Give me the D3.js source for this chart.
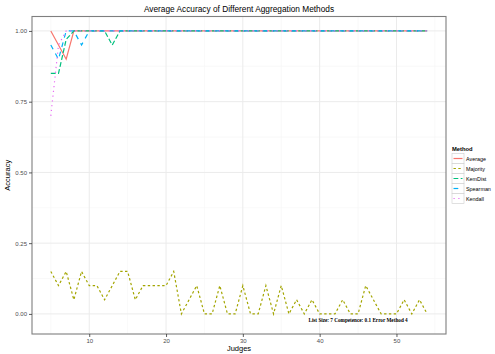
<!DOCTYPE html>
<html>
<head>
<meta charset="utf-8">
<script src="https://cdn.jsdelivr.net/npm/d3@7"></script>
<style>
  html, body { margin: 0; padding: 0; background: #fff; }
  svg { display: block; font-family: "Liberation Sans", Arial, sans-serif; }
</style>
</head>
<body>
<svg id="chart" width="495" height="354"></svg>
<script>
// Number of judges on the x axis
const judges = d3.range(5, 55);

// Method names, in legend order
const methods = ["Average", "Majority", "KemDist", "Spearman", "Kendall"];

// Average accuracy per number of judges (5..54), one array per method
const averageAcc = [1.00, 0.95, 0.90, 1.00, 1.00, 1.00, 1.00, 1.00, 1.00, 1.00,
  1.00, 1.00, 1.00, 1.00, 1.00, 1.00, 1.00, 1.00, 1.00, 1.00, 1.00, 1.00, 1.00, 1.00, 1.00,
  1.00, 1.00, 1.00, 1.00, 1.00, 1.00, 1.00, 1.00, 1.00, 1.00, 1.00, 1.00, 1.00, 1.00, 1.00,
  1.00, 1.00, 1.00, 1.00, 1.00, 1.00, 1.00, 1.00, 1.00, 1.00];
const majorityAcc = [0.15, 0.10, 0.15, 0.05, 0.15, 0.10, 0.10, 0.05, 0.10, 0.15,
  0.15, 0.05, 0.10, 0.10, 0.10, 0.10, 0.15, 0.00, 0.05, 0.10, 0.00, 0.00, 0.10, 0.00, 0.00,
  0.10, 0.00, 0.00, 0.10, 0.00, 0.10, 0.00, 0.05, 0.00, 0.05, 0.00, 0.00, 0.00, 0.05, 0.00,
  0.00, 0.10, 0.05, 0.00, 0.00, 0.00, 0.05, 0.00, 0.05, 0.00];
const kemDistAcc = [0.85, 0.85, 0.97, 1.00, 1.00, 1.00, 1.00, 1.00, 0.95, 1.00,
  1.00, 1.00, 1.00, 1.00, 1.00, 1.00, 1.00, 1.00, 1.00, 1.00, 1.00, 1.00, 1.00, 1.00, 1.00,
  1.00, 1.00, 1.00, 1.00, 1.00, 1.00, 1.00, 1.00, 1.00, 1.00, 1.00, 1.00, 1.00, 1.00, 1.00,
  1.00, 1.00, 1.00, 1.00, 1.00, 1.00, 1.00, 1.00, 1.00, 1.00];
const spearmanAcc = [0.95, 0.90, 1.00, 1.00, 0.95, 1.00, 1.00, 1.00, 1.00, 1.00,
  1.00, 1.00, 1.00, 1.00, 1.00, 1.00, 1.00, 1.00, 1.00, 1.00, 1.00, 1.00, 1.00, 1.00, 1.00,
  1.00, 1.00, 1.00, 1.00, 1.00, 1.00, 1.00, 1.00, 1.00, 1.00, 1.00, 1.00, 1.00, 1.00, 1.00,
  1.00, 1.00, 1.00, 1.00, 1.00, 1.00, 1.00, 1.00, 1.00, 1.00];
const kendallAcc = [0.70, 0.95, 1.00, 1.00, 1.00, 1.00, 1.00, 1.00, 1.00, 1.00,
  1.00, 1.00, 1.00, 1.00, 1.00, 1.00, 1.00, 1.00, 1.00, 1.00, 1.00, 1.00, 1.00, 1.00, 1.00,
  1.00, 1.00, 1.00, 1.00, 1.00, 1.00, 1.00, 1.00, 1.00, 1.00, 1.00, 1.00, 1.00, 1.00, 1.00,
  1.00, 1.00, 1.00, 1.00, 1.00, 1.00, 1.00, 1.00, 1.00, 1.00];

const xTicks = [10, 20, 30, 40, 50];
const yTicks = [0, 0.25, 0.5, 0.75, 1];
const yTickLabels = ["0.00", "0.25", "0.50", "0.75", "1.00"];

const note = { x: 45, y: -0.02, text: "List Size: 7 Competence: 0.1 Error Method 4" };

const seriesValues = [averageAcc, majorityAcc, kemDistAcc, spearmanAcc, kendallAcc];
const colors = ["#F8766D", "#A3A500", "#00BF7D", "#00B0F6", "#E76BF3"];
const dashes = [null, "2.4,2.4", "4.8,2.4", "4.8,4.8", "1.2,3.6"];

const series = methods.map((m, i) => ({
  name: m,
  color: colors[i],
  dash: dashes[i],
  points: judges.map((j, k) => ({ x: j, y: seriesValues[i][k] }))
}));

const svg = d3.select("#chart");
const panel = { left: 32, right: 446, top: 16.5, bottom: 334 };

// ggplot-style 5% expansion on each side
function expand(lo, hi) { const d = (hi - lo) * 0.05; return [lo - d, hi + d]; }
const xDom = expand(d3.min(judges), d3.max(judges));
const allY = seriesValues.flat().concat([note.y]);
const yDom = expand(d3.min(allY), d3.max(allY));

const x = d3.scaleLinear().domain(xDom).range([panel.left, panel.right]);
const y = d3.scaleLinear().domain(yDom).range([panel.bottom, panel.top]);

// panel background
svg.append("rect")
  .attr("x", panel.left).attr("y", panel.top)
  .attr("width", panel.right - panel.left).attr("height", panel.bottom - panel.top)
  .attr("fill", "#fff");

// minor gridlines
const xMinor = [5, 15, 25, 35, 45, 55];
const yMinor = [0.125, 0.375, 0.625, 0.875];
const grid = svg.append("g");
grid.selectAll(".vxm").data(xMinor).join("line")
  .attr("x1", d => x(d)).attr("x2", d => x(d))
  .attr("y1", panel.top).attr("y2", panel.bottom)
  .attr("stroke", "#f7f7f7").attr("stroke-width", 0.7);
grid.selectAll(".hym").data(yMinor).join("line")
  .attr("y1", d => y(d)).attr("y2", d => y(d))
  .attr("x1", panel.left).attr("x2", panel.right)
  .attr("stroke", "#f7f7f7").attr("stroke-width", 0.7);
// major gridlines
grid.selectAll(".vx").data(xTicks).join("line")
  .attr("x1", d => x(d)).attr("x2", d => x(d))
  .attr("y1", panel.top).attr("y2", panel.bottom)
  .attr("stroke", "#ebebeb").attr("stroke-width", 1);
grid.selectAll(".hy").data(yTicks).join("line")
  .attr("y1", d => y(d)).attr("y2", d => y(d))
  .attr("x1", panel.left).attr("x2", panel.right)
  .attr("stroke", "#ebebeb").attr("stroke-width", 1);

// series lines
const line = d3.line().x(d => x(d.x)).y(d => y(d.y));
svg.append("g").selectAll("path").data(series).join("path")
  .attr("d", d => line(d.points))
  .attr("fill", "none")
  .attr("stroke", d => d.color)
  .attr("stroke-width", 1.2)
  .attr("stroke-dasharray", d => d.dash);

// annotation
svg.append("text")
  .attr("x", x(note.x)).attr("y", y(note.y))
  .attr("text-anchor", "middle").attr("dominant-baseline", "central")
  .attr("font-family", "'Liberation Serif', 'Times New Roman', serif")
  .attr("font-weight", "bold").attr("font-size", 5.2)
  .attr("fill", "#000")
  .text(note.text);

// panel border
svg.append("rect")
  .attr("x", panel.left).attr("y", panel.top)
  .attr("width", panel.right - panel.left).attr("height", panel.bottom - panel.top)
  .attr("fill", "none").attr("stroke", "#7f7f7f").attr("stroke-width", 1.1);

// axes
const xAxis = svg.append("g")
  .attr("transform", `translate(0,${panel.bottom})`)
  .call(d3.axisBottom(x).tickValues(xTicks).tickSize(3).tickPadding(2).tickFormat(d3.format("d")));
const yAxis = svg.append("g")
  .attr("transform", `translate(${panel.left},0)`)
  .call(d3.axisLeft(y).tickValues(yTicks).tickSize(3).tickPadding(2)
    .tickFormat((d, i) => yTickLabels[i]));
[xAxis, yAxis].forEach(a => {
  a.select(".domain").remove();
  a.selectAll(".tick line").attr("stroke", "#333").attr("stroke-width", 0.8);
  a.selectAll(".tick text").attr("fill", "#4d4d4d")
    .attr("font-size", 6).attr("font-family", "'Liberation Sans', Arial, sans-serif");
});

// titles
svg.append("text").attr("x", (panel.left + panel.right) / 2).attr("y", 12)
  .attr("text-anchor", "middle").attr("font-size", 8.3).attr("fill", "#000")
  .text("Average Accuracy of Different Aggregation Methods");
svg.append("text").attr("x", (panel.left + panel.right) / 2).attr("y", 351)
  .attr("text-anchor", "middle").attr("font-size", 7.5).attr("fill", "#000")
  .text("Judges");
svg.append("text")
  .attr("transform", `translate(10,${(panel.top + panel.bottom) / 2}) rotate(-90)`)
  .attr("text-anchor", "middle").attr("font-size", 7.5).attr("fill", "#000")
  .text("Accuracy");

// legend
const lg = svg.append("g").attr("transform", "translate(452,0)");
lg.append("text").attr("x", 0).attr("y", 151)
  .attr("font-size", 5.8).attr("font-weight", "bold").attr("fill", "#000")
  .text("Method");
const keyH = 10, keyW = 12, key0 = 153.5;
const items = lg.selectAll(".item").data(series).join("g")
  .attr("transform", (d, i) => `translate(0,${key0 + i * keyH})`);
items.append("rect").attr("width", keyW).attr("height", keyH)
  .attr("fill", "#fff").attr("stroke", "#cccccc").attr("stroke-width", 0.6);
items.append("line").attr("x1", 1.5).attr("x2", keyW - 1.5)
  .attr("y1", keyH / 2).attr("y2", keyH / 2)
  .attr("stroke", d => d.color).attr("stroke-width", 1.2)
  .attr("stroke-dasharray", d => d.dash);
items.append("text").attr("x", keyW + 2).attr("y", keyH / 2)
  .attr("dominant-baseline", "central").attr("font-size", 5.4).attr("fill", "#000")
  .text(d => d.name);
</script>
</body>
</html>
